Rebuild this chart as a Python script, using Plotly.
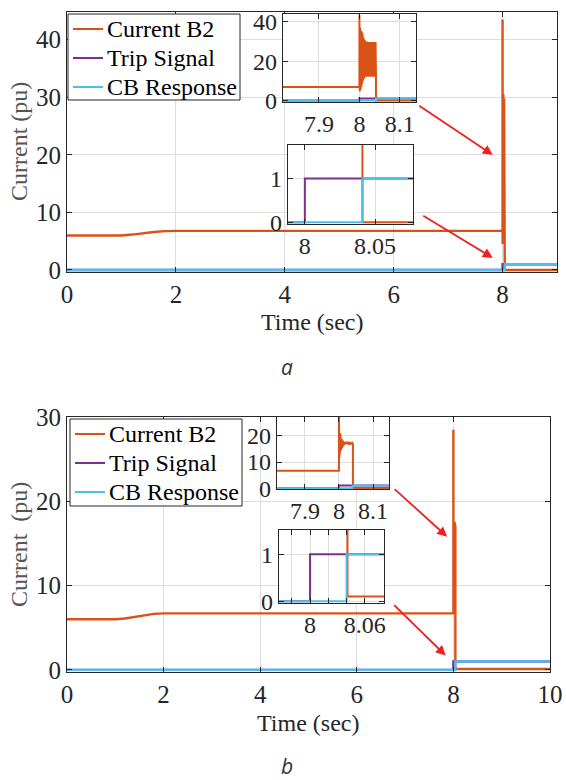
import plotly.graph_objects as go

# ---------------- data : panel a ----------------
t_pre_a = [0.0, 1.0, 1.2, 1.4, 1.6, 1.8, 2.0, 8.0]
i_pre_a = [6.0, 6.0, 6.15, 6.4, 6.6, 6.75, 6.8, 6.8]
t_fault_a = [round(8.0 + 0.001 * k, 3) for k in range(42)]
i_fault_a = [43.5, 4.5, 37.0, 5.5, 35.5, 7.0, 35.0, 8.5, 34.0, 10.0,
             32.0, 11.0, 31.0, 11.5, 30.5, 12.0, 30.0, 12.0, 30.0, 12.0,
             29.8, 12.0, 29.8, 12.0, 29.8, 12.0, 29.8, 12.0, 29.8, 12.0,
             29.8, 12.0, 29.8, 12.0, 29.8, 12.0, 29.8, 12.0, 29.8, 12.0,
             29.8, 12.0]
t_post_a = [8.041, 9.0]
i_post_a = [0.0, 0.0]
trip_t_a = [0.0, 8.0, 8.0, 9.0]
trip_v_a = [0, 0, 1, 1]
cb_t_a = [0.0, 8.041, 8.041, 9.0]
cb_v_a = [0, 0, 1, 1]

# ---------------- data : panel b ----------------
t_pre_b = [0.0, 1.0, 1.2, 1.4, 1.6, 1.8, 2.0, 8.0]
i_pre_b = [6.0, 6.0, 6.1, 6.3, 6.5, 6.65, 6.7, 6.7]
t_fault_b = [round(8.0 + 0.001 * k, 3) for k in range(42)]
i_fault_b = [28.5, 12.0, 24.0, 14.0, 21.0, 15.0, 20.0, 14.5, 19.0, 15.5,
             18.5, 16.0, 18.2, 16.5, 17.8, 16.8, 17.6, 17.0, 17.5, 17.0,
             17.5, 17.0, 17.4, 17.0, 17.4, 17.0, 17.4, 17.0, 17.3, 17.0,
             17.3, 17.0, 17.3, 17.0, 17.3, 17.0, 17.2, 17.0, 17.2, 17.0,
             17.2, 17.0]
t_post_b = [8.041, 10.0]
i_post_b = [0.1, 0.1]
trip_t_b = [0.0, 8.0, 8.0, 10.0]
trip_v_b = [0, 0, 1, 1]
cb_t_b = [0.0, 8.04, 8.04, 10.0]
cb_v_b = [0, 0, 1, 1]

series_names = ["Current B2", "Trip Signal", "CB Response"]
colors = ["#D95319", "#7E2F8E", "#4DBEEE"]

W, H = 566, 780
INK = "#262626"
SERIF = "Liberation Serif"


def px_x(p):
    return p / W


def px_y(p):
    return 1 - p / H


fig = go.Figure()


def add_set(cur_t, cur_i, tr_t, tr_v, cb_t, cb_v, xa, ya, width):
    data = [(cur_t, cur_i), (tr_t, tr_v), (cb_t, cb_v)]
    for (tx, vy), name, col in zip(data, series_names, colors):
        fig.add_trace(go.Scatter(
            x=tx, y=vy, mode="lines", name=name,
            line=dict(color=col, width=width),
            xaxis=xa, yaxis=ya, showlegend=False, hoverinfo="skip"))


cur_t_a = t_pre_a + t_fault_a + t_post_a
cur_i_a = i_pre_a + i_fault_a + i_post_a
cur_t_b = t_pre_b + t_fault_b + t_post_b
cur_i_b = i_pre_b + i_fault_b + i_post_b

add_set(cur_t_a, cur_i_a, trip_t_a, trip_v_a, cb_t_a, cb_v_a, "x", "y", 2.4)
add_set(cur_t_a, cur_i_a, trip_t_a, trip_v_a, cb_t_a, cb_v_a, "x2", "y2", 2.0)
add_set(cur_t_a, cur_i_a, trip_t_a, trip_v_a, cb_t_a, cb_v_a, "x3", "y3", 2.0)
add_set(cur_t_b, cur_i_b, trip_t_b, trip_v_b, cb_t_b, cb_v_b, "x4", "y4", 2.4)
add_set(cur_t_b, cur_i_b, trip_t_b, trip_v_b, cb_t_b, cb_v_b, "x5", "y5", 2.0)
add_set(cur_t_b, cur_i_b, trip_t_b, trip_v_b, cb_t_b, cb_v_b, "x6", "y6", 2.0)


def axis(domain, rng, tickvals, anchor, ticktext=None, size=24, lw=1):
    d = dict(domain=domain, range=rng, tickvals=tickvals, anchor=anchor,
             ticks="inside", ticklen=5, tickcolor=INK, tickwidth=1,
             mirror="ticks", showline=True, linecolor=INK, linewidth=lw,
             showgrid=True, gridcolor="#dedede", gridwidth=1, zeroline=False,
             automargin=False,
             tickfont=dict(family=SERIF, size=size, color=INK), fixedrange=True)
    if ticktext is not None:
        d["ticktext"] = ticktext
    return d


layout = dict(
    template="none",
    width=W, height=H, margin=dict(l=0, r=0, t=0, b=0, pad=0, autoexpand=False),
    paper_bgcolor="white", plot_bgcolor="white",
    font=dict(family=SERIF, color=INK),
    showlegend=False,
    # panel a main
    xaxis=axis([px_x(67), px_x(557)], [0, 9], [0, 2, 4, 6, 8], "y", size=25),
    yaxis=axis([px_y(272), px_y(12)], [-0.35, 44.8], [0, 10, 20, 30, 40], "x", size=25),
    # inset a1
    xaxis2=axis([px_x(283), px_x(416)], [7.811, 8.14], [7.9, 8.0, 8.1], "y2",
                ticktext=["7.9", "8", "8.1"], lw=1.3),
    yaxis2=axis([px_y(102), px_y(14)], [-0.8, 44], [0, 20, 40], "x2", lw=1.3),
    # inset a2
    xaxis3=axis([px_x(288), px_x(413)], [7.988, 8.077], [8.0, 8.05], "y3",
                ticktext=["8", "8.05"], lw=1.3),
    yaxis3=axis([px_y(224), px_y(145)], [-0.04, 1.77], [0, 1], "x3", lw=1.3),
    # panel b main
    xaxis4=axis([px_x(67), px_x(550)], [0, 10], [0, 2, 4, 6, 8, 10], "y4", size=25),
    yaxis4=axis([px_y(672), px_y(417)], [-0.25, 30], [0, 10, 20, 30], "x4", size=25),
    # inset b1
    xaxis5=axis([px_x(277), px_x(389)], [7.818, 8.147], [7.9, 8.0, 8.1], "y5",
                ticktext=["7.9", "8", "8.1"], lw=1.3),
    yaxis5=axis([px_y(489), px_y(417)], [-0.3, 27.2], [0, 10, 20], "x5", lw=1.3),
    # inset b2
    xaxis6=axis([px_x(279), px_x(384)], [7.966, 8.081],
                [7.98, 8.0, 8.02, 8.04, 8.06, 8.08], "y6",
                ticktext=["", "8", "", "", "8.06", ""], lw=1.3),
    yaxis6=axis([px_y(603), px_y(530)], [-0.04, 1.52], [0, 1], "x6", lw=1.3),
)
fig.update_layout(**layout)

# ---- legends (MATLAB style boxes) ----
legend_boxes = [((68, 14, 240, 100), (29, 58, 87)),
                ((70, 419, 242, 506), (434, 463, 492))]
for (x0, y0, x1, y1), rows in legend_boxes:
    fig.add_shape(type="rect", xref="paper", yref="paper",
                  x0=px_x(x0), x1=px_x(x1), y0=px_y(y1), y1=px_y(y0),
                  fillcolor="white", line=dict(color=INK, width=1), layer="above")
    for name, col, ry in zip(series_names, colors, rows):
        fig.add_shape(type="line", xref="paper", yref="paper",
                      x0=px_x(x0 + 5), x1=px_x(x0 + 35), y0=px_y(ry), y1=px_y(ry),
                      line=dict(color=col, width=2), layer="above")
        fig.add_annotation(text=name, x=px_x(x0 + 37), y=px_y(ry), xref="paper",
                           yref="paper", showarrow=False, xanchor="left",
                           yanchor="middle",
                           font=dict(family=SERIF, size=24, color="black"))

# axis titles and panel labels
title_font = dict(family=SERIF, size=24, color=INK)
ytitle_font = dict(family=SERIF, size=24, color="#555555")
for txt, x, y in [("Time (sec)", 312, 322), ("Time (sec)", 308, 723)]:
    fig.add_annotation(text=txt, x=px_x(x), y=px_y(y), xref="paper", yref="paper",
                       showarrow=False, font=title_font, xanchor="center", yanchor="middle")
for txt, y in [("Current (pu)", 142), ("Current&nbsp; (pu)", 545)]:
    fig.add_annotation(text=txt, x=px_x(19), y=px_y(y), xref="paper", yref="paper",
                       showarrow=False, font=ytitle_font, textangle=-90,
                       xanchor="center", yanchor="middle")
for txt, x, y in [("a", 287, 367), ("b", 287, 766)]:
    fig.add_annotation(text=txt, x=px_x(x), y=px_y(y), xref="paper", yref="paper",
                       showarrow=False,
                       font=dict(family="Open Sans", size=21, color="#333333", style="italic"),
                       xanchor="center", yanchor="middle")

# red arrows pointing at the fault instant
arrows = [("x", "y", 7.82, 20.0, -75, -50), ("x", "y", 7.82, 2.1, -71, -43),
          ("x4", "y4", 7.87, 15.8, -54, -49), ("x4", "y4", 7.84, 1.7, -53, -52)]
for xr, yr, x, y, ax, ay in arrows:
    fig.add_annotation(text="", x=x, y=y, xref=xr, yref=yr, ax=ax, ay=ay,
                       showarrow=True, arrowhead=2, arrowsize=1.1, arrowwidth=1.8,
                       arrowcolor="#f02020", standoff=0, startstandoff=0)

fig.write_html("out.html")
